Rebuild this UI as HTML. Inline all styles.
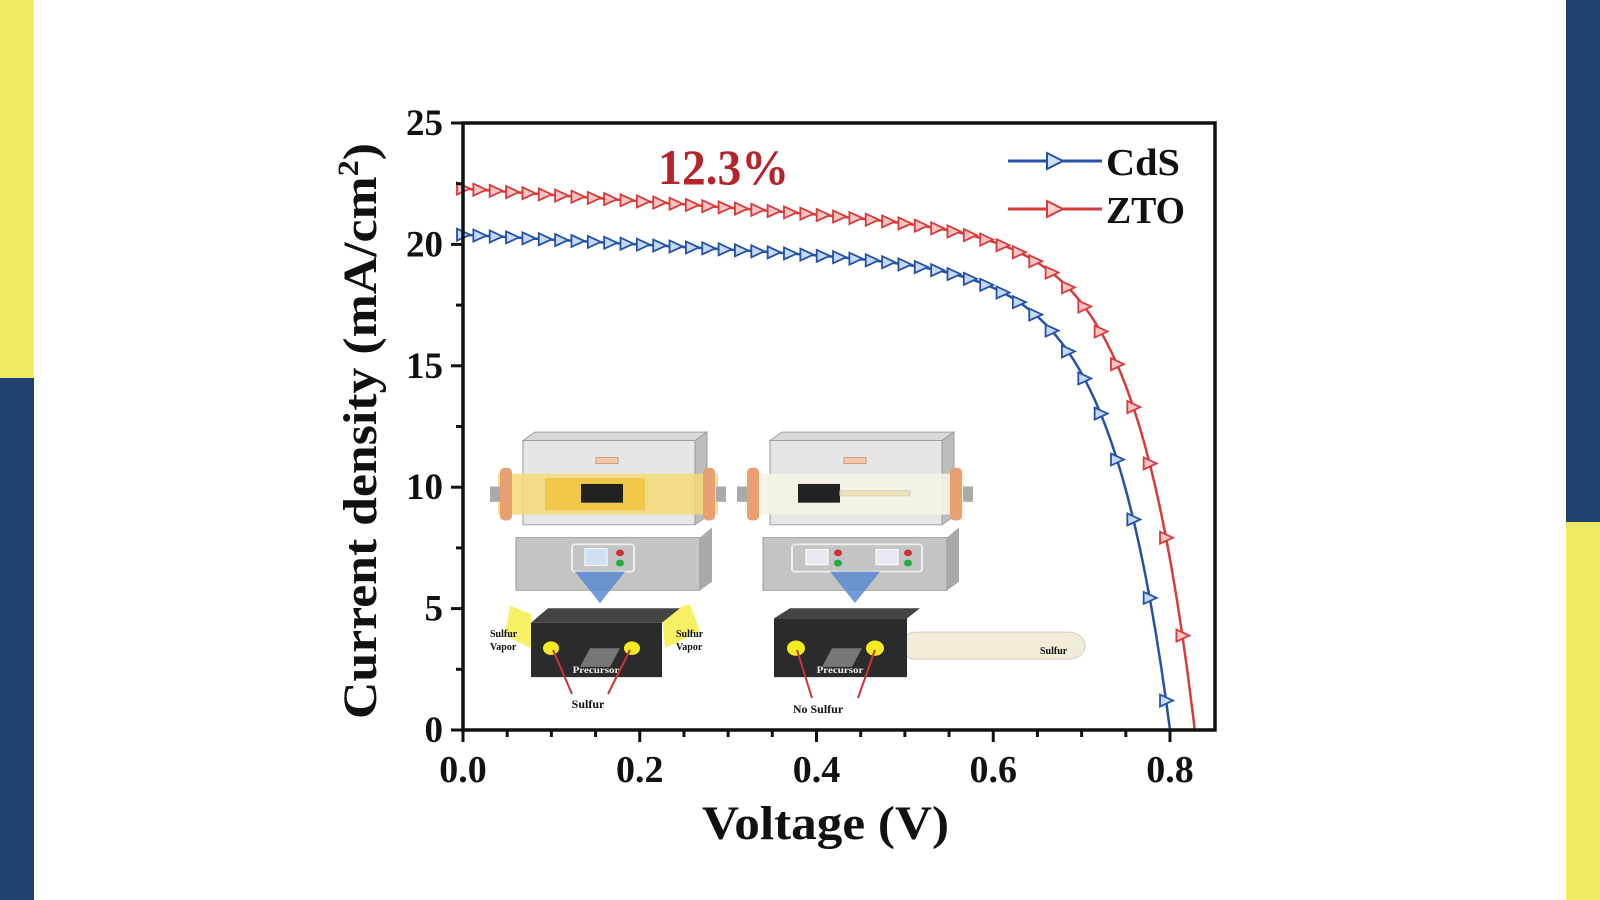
<!DOCTYPE html>
<html><head><meta charset="utf-8"><style>
html,body{margin:0;padding:0;background:#fff;}
svg{display:block;}
text{font-family:"Liberation Serif",serif;font-weight:bold;fill:#111;}
</style></head><body>
<svg id="s" width="1600" height="900" viewBox="0 0 1600 900" xmlns="http://www.w3.org/2000/svg">
<rect x="0" y="0" width="34" height="378" fill="#f0e963"/>
<rect x="0" y="378" width="34" height="522" fill="#1f4170"/>
<rect x="1566" y="0" width="34" height="522" fill="#1f4170"/>
<rect x="1566" y="522" width="34" height="378" fill="#f0e963"/>

<g id="inset" transform="matrix(1,0,0,0.851,0,61)">
 <polygon points="523,446 535,436 707,436 695,446" fill="#d8d8d8" stroke="#999"/>
 <polygon points="695,446 707,436 707,535 695,545" fill="#bdbdbd" stroke="#999"/>
 <rect x="523" y="446" width="172" height="99" fill="#e6e6e6" stroke="#999"/>
 <rect x="498" y="485" width="220" height="48" fill="#f3d97a" opacity="0.85"/>
 <rect x="545" y="490" width="100" height="38" fill="#f0c84a"/>
 <rect x="490" y="500" width="10" height="18" fill="#aaa"/>
 <rect x="716" y="500" width="10" height="18" fill="#aaa"/>
 <rect x="500" y="478" width="12" height="62" rx="5" fill="#e8a070"/>
 <rect x="703" y="478" width="12" height="62" rx="5" fill="#e8a070"/>
 <rect x="581" y="497" width="42" height="22" fill="#222"/>
 <rect x="596" y="466" width="22" height="7" fill="#f4c8a8" stroke="#c9957a"/>
 <polygon points="700,560 712,548 712,612 700,622" fill="#a9a9a9"/>
 <rect x="516" y="560" width="184" height="62" fill="#c4c4c4" stroke="#999"/>
 <rect x="572" y="568" width="62" height="32" rx="3" fill="none" stroke="#eee" stroke-width="2"/>
 <rect x="585" y="573" width="22" height="20" fill="#cfe0f5" stroke="#fff"/>
 <circle cx="620" cy="578" r="4" fill="#c33"/><circle cx="620" cy="590" r="4" fill="#2a4"/>
 <polygon points="575,600 625,600 600,637" fill="#5b8bd0" opacity="0.85"/>
 <polygon points="510,640 531,650 531,690 505,675" fill="#f5ec40" opacity="0.8"/>
 <polygon points="662,650 690,638 700,670 665,690" fill="#f5ec40" opacity="0.8"/>
 <polygon points="531,660 548,643 680,643 662,660" fill="#444"/>
 <rect x="531" y="660" width="131" height="64" fill="#2b2b2b"/>
 <circle cx="551" cy="690" r="8" fill="#f5ec20"/><circle cx="632" cy="690" r="8" fill="#f5ec20"/>
 <polygon points="580,712 590,690 620,690 610,712" fill="#777"/>
 <text x="596" y="719" font-size="11" text-anchor="middle" style="fill:#eee">Precursor</text>

 <polygon points="770,446 782,436 954,436 942,446" fill="#d8d8d8" stroke="#999"/>
 <polygon points="942,446 954,436 954,535 942,545" fill="#bdbdbd" stroke="#999"/>
 <rect x="770" y="446" width="172" height="99" fill="#e6e6e6" stroke="#999"/>
 <rect x="745" y="485" width="220" height="48" fill="#f6f2e4" opacity="0.9"/>
 <rect x="737" y="500" width="10" height="18" fill="#aaa"/>
 <rect x="963" y="500" width="10" height="18" fill="#aaa"/>
 <rect x="747" y="478" width="12" height="62" rx="5" fill="#e8a070"/>
 <rect x="950" y="478" width="12" height="62" rx="5" fill="#e8a070"/>
 <rect x="798" y="497" width="42" height="22" fill="#222"/>
 <rect x="840" y="505" width="70" height="6" fill="#efe3b0" stroke="#ccc"/>
 <rect x="844" y="466" width="22" height="7" fill="#f4c8a8" stroke="#c9957a"/>
 <polygon points="947,560 959,548 959,612 947,622" fill="#a9a9a9"/>
 <rect x="763" y="560" width="184" height="62" fill="#c4c4c4" stroke="#999"/>
 <rect x="792" y="568" width="130" height="32" rx="3" fill="none" stroke="#eee" stroke-width="2"/>
 <rect x="806" y="574" width="22" height="18" fill="#e8e8f0" stroke="#fff"/>
 <rect x="876" y="574" width="22" height="18" fill="#e8e8f0" stroke="#fff"/>
 <circle cx="838" cy="578" r="4" fill="#c33"/><circle cx="838" cy="590" r="4" fill="#2a4"/>
 <circle cx="908" cy="578" r="4" fill="#c33"/><circle cx="908" cy="590" r="4" fill="#2a4"/>
 <polygon points="830,600 880,600 855,637" fill="#5b8bd0" opacity="0.85"/>
 <rect x="900" y="671" width="185" height="32" rx="16" fill="#f1ecd8" stroke="#ccc"/>
 <polygon points="774,655 790,643 920,643 907,655" fill="#444"/>
 <rect x="774" y="655" width="133" height="69" fill="#2b2b2b"/>
 <circle cx="796" cy="690" r="9" fill="#f5ec20"/><circle cx="875" cy="690" r="9" fill="#f5ec20"/>
 <polygon points="822,712 832,690 862,690 852,712" fill="#777"/>
 <text x="840" y="719" font-size="11" text-anchor="middle" style="fill:#eee">Precursor</text>
</g>
<path d="M553,650 L572,694 M630,650 L608,694" stroke="#c33" stroke-width="2"/>
<path d="M797,650 L812,698 M875,650 L858,698" stroke="#c33" stroke-width="2"/>
<text x="490" y="637" font-size="10">Sulfur</text>
<text x="490" y="650" font-size="10">Vapor</text>
<text x="676" y="637" font-size="10">Sulfur</text>
<text x="676" y="650" font-size="10">Vapor</text>
<text x="1040" y="654" font-size="10">Sulfur</text>
<text x="588" y="708" font-size="12" text-anchor="middle">Sulfur</text>
<text x="818" y="713" font-size="12" text-anchor="middle">No Sulfur</text>

<g id="curves"></g>

<rect x="463" y="123" width="752" height="607" fill="none" stroke="#111" stroke-width="3.5"/>
<g id="ticks" stroke="#111" stroke-width="3"></g>
<g id="labels"></g>

<text x="658" y="184" font-size="50" textLength="131" lengthAdjust="spacingAndGlyphs" style="fill:#b5232b">12.3%</text>

<line x1="1008" y1="161" x2="1102" y2="161" stroke="#2452a8" stroke-width="3"/>
<polygon points="1047,153 1063,161 1047,169" fill="#cfe0f8" stroke="#2452a8" stroke-width="2"/>
<text x="1106" y="175" font-size="38" textLength="74" lengthAdjust="spacingAndGlyphs">CdS</text>
<line x1="1008" y1="209" x2="1102" y2="209" stroke="#d93a3a" stroke-width="3"/>
<polygon points="1047,201 1063,209 1047,217" fill="#f8d0d0" stroke="#d93a3a" stroke-width="2"/>
<text x="1106" y="223" font-size="38" textLength="79" lengthAdjust="spacingAndGlyphs">ZTO</text>

<text x="702" y="839" font-size="48" textLength="247" lengthAdjust="spacingAndGlyphs">Voltage (V)</text>
<text transform="translate(376,719) rotate(-90)" font-size="48" textLength="576" lengthAdjust="spacingAndGlyphs">Current density (mA/cm<tspan dy="-18" font-size="30">2</tspan><tspan dy="18">)</tspan></text>
</svg>
<script>
(function(){
var NS="http://www.w3.org/2000/svg";
var x0=463,px=883.75,y0=730,py=24.28;
function X(v){return x0+v*px;} function Y(j){return y0-j*py;}
function el(t,a,p){var e=document.createElementNS(NS,t);for(var k in a)e.setAttribute(k,a[k]);p.appendChild(e);return e;}
var ticks=document.getElementById('ticks'),labels=document.getElementById('labels'),curves=document.getElementById('curves');
for(var i=0;i<=17;i++){var v=i*0.05,x=X(v);if(x>1214)break;var major=(i%4==0);
 el('line',{x1:x,y1:730,x2:x,y2:730+(major?12:7)},ticks);
 if(major){var t=el('text',{x:x,y:782,'font-size':38,'text-anchor':'middle'},labels);t.textContent=(v).toFixed(1);} }
for(var j=0;j<=10;j++){var jv=j*2.5,y=Y(jv),major=(j%2==0);
 el('line',{x1:463,y1:y,x2:463-(major?12:7),y2:y},ticks);
 if(major){var t=el('text',{x:443,y:y+12,'font-size':37,'text-anchor':'end'},labels);t.textContent=jv;} }
function curve(jsc,s,voc,vt,col,fill){
 var B=(jsc-s*voc)/(Math.exp(voc/vt)-1);
 var pts=[];
 for(var v=0;v<=voc+1e-9;v+=0.002){var J=jsc-s*v-B*(Math.exp(v/vt)-1);pts.push(X(v).toFixed(1)+','+Y(Math.max(J,0)).toFixed(1));}
 el('polyline',{points:pts.join(' '),fill:'none',stroke:col,'stroke-width':2.5},curves);
 var step=0.0185;
 for(var k=0;k*step<=voc+0.001;k++){var v=Math.min(k*step,voc);var J=Math.max(jsc-s*v-B*(Math.exp(v/vt)-1),0);
  var cx=X(v),cy=Y(J);
  el('polygon',{points:(cx-6)+','+(cy-6)+' '+(cx+7)+','+cy+' '+(cx-6)+','+(cy+6),fill:fill,stroke:col,'stroke-width':1.8},curves);}
}
curve(22.3,2.6,0.828,0.066,'#d93a3a','#f6c4c4');
curve(20.4,2.0,0.800,0.068,'#2452a8','#c6d8f4');
})();
</script>
</body></html>
